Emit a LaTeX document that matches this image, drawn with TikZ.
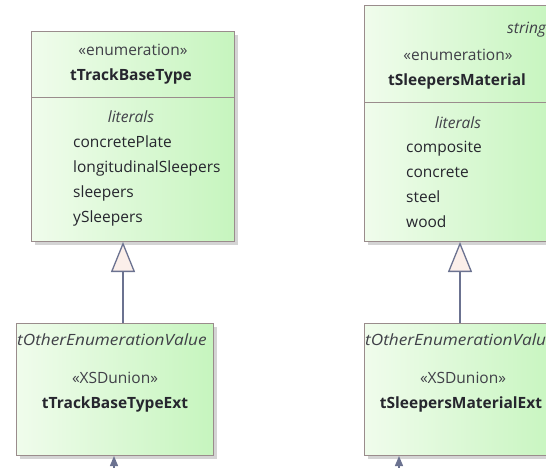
\documentclass[tikz,border=0pt]{standalone}
\usepackage{fontspec}
\setmainfont{Open Sans}
\usetikzlibrary{arrows.meta,shadows}
\definecolor{boxline}{HTML}{9A8C8C}
\definecolor{fillL}{HTML}{F0FCEC}
\definecolor{fillR}{HTML}{C6F5BE}
\definecolor{shadowc}{HTML}{D4D4D4}
\definecolor{conn}{HTML}{6B7290}
\definecolor{trifill}{HTML}{FBEFEA}
\definecolor{txt}{HTML}{26262E}
\definecolor{stereo}{HTML}{404048}
\newcommand{\fsz}{\fontsize{15.5}{18}\selectfont}
\tikzset{
  classbox/.style={draw=boxline, line width=1pt, left color=fillL, right color=fillR, rectangle, inner sep=0pt,
    drop shadow={shadow xshift=3pt, shadow yshift=-3pt, fill=shadowc, opacity=1}},
  divider/.style={draw=boxline, line width=1pt},
  lbl/.style={font=\fsz, text=txt, inner sep=0pt, anchor=base},
  bname/.style={lbl, font=\fsz\bfseries},
  ital/.style={lbl, font=\fsz\itshape, text=stereo},
  itm/.style={lbl, anchor=base west},
  gen/.style={draw=conn, line width=1.3pt, -{Triangle[open, length=30pt, width=24pt, fill=trifill, line width=1.3pt]}},
  dep/.style={draw=conn, line width=1.3pt, -{Triangle[length=10pt, width=8pt]}},
}
\begin{document}
\begin{tikzpicture}[x=1pt,y=-1pt]
\useasboundingbox (0,0) rectangle (546,467);
\clip (0,0) rectangle (546,467);
% boxes
\node[classbox, minimum width=203pt, minimum height=210pt, anchor=north west] (enumL) at (31,31) {};
\node[classbox, minimum width=190pt, minimum height=236pt, anchor=north west] (enumR) at (364,5) {};
\node[classbox, minimum width=197pt, minimum height=132pt, anchor=north west] (unionL) at (16,323) {};
\node[classbox, minimum width=197pt, minimum height=132pt, anchor=north west] (unionR) at (364,323) {};
\draw[divider] (enumL.west |- 0,97) -- (enumL.east |- 0,97);
\draw[divider] (enumR.west |- 0,102) -- (enumR.east |- 0,102);
% left enumeration text
\node[lbl, text=stereo] (stL) at (133,55) {«enumeration»};
\node[bname] (nmL) at (131,80) {tTrackBaseType};
\node[ital] (litL) at (131,122) {literals};
\node[itm] (l1) at (73,147) {concretePlate};
\node[itm] (l2) at (73,172) {longitudinalSleepers};
\node[itm] (l3) at (73,197) {sleepers};
\node[itm] (l4) at (73,222) {ySleepers};
% right enumeration text
\node[ital, anchor=base west] (strR) at (507,33) {string};
\node[lbl, text=stereo] (stR) at (458,60) {«enumeration»};
\node[bname] (nmR) at (457,85) {tSleepersMaterial};
\node[ital] (litR) at (458,128) {literals};
\node[itm] (r1) at (406,152) {composite};
\node[itm] (r2) at (406,177) {concrete};
\node[itm] (r3) at (406,202) {steel};
\node[itm] (r4) at (406,227) {wood};
% union boxes text
\node[ital, anchor=base west] (oL) at (17,345) {\scalebox{1.11}[1]{tOtherEnumerationValue}};
\node[lbl, text=stereo] (xL) at (115,383) {«XSDunion»};
\node[bname] (nL) at (115,408) {tTrackBaseTypeExt};
\node[ital, anchor=base west] (oR) at (365,345) {\scalebox{1.11}[1]{tOtherEnumerationValue}};
\node[lbl, text=stereo] (xR) at (463,383) {«XSDunion»};
\node[bname] (nR) at (461,408) {tSleepersMaterialExt};
% generalizations
\coordinate (gL) at (123,0);
\coordinate (gR) at (460,0);
\draw[gen] (unionL.north -| gL) -- (enumL.south -| gL);
\draw[gen] (unionR.north -| gR) -- (enumR.south -| gR);
% incoming arrows from below
\coordinate (dL) at (114,480);
\coordinate (dR) at (399,480);
\draw[dep] (dL) -- (unionL.south -| dL);
\draw[dep] (dR) -- (unionR.south -| dR);
\end{tikzpicture}
\end{document}
